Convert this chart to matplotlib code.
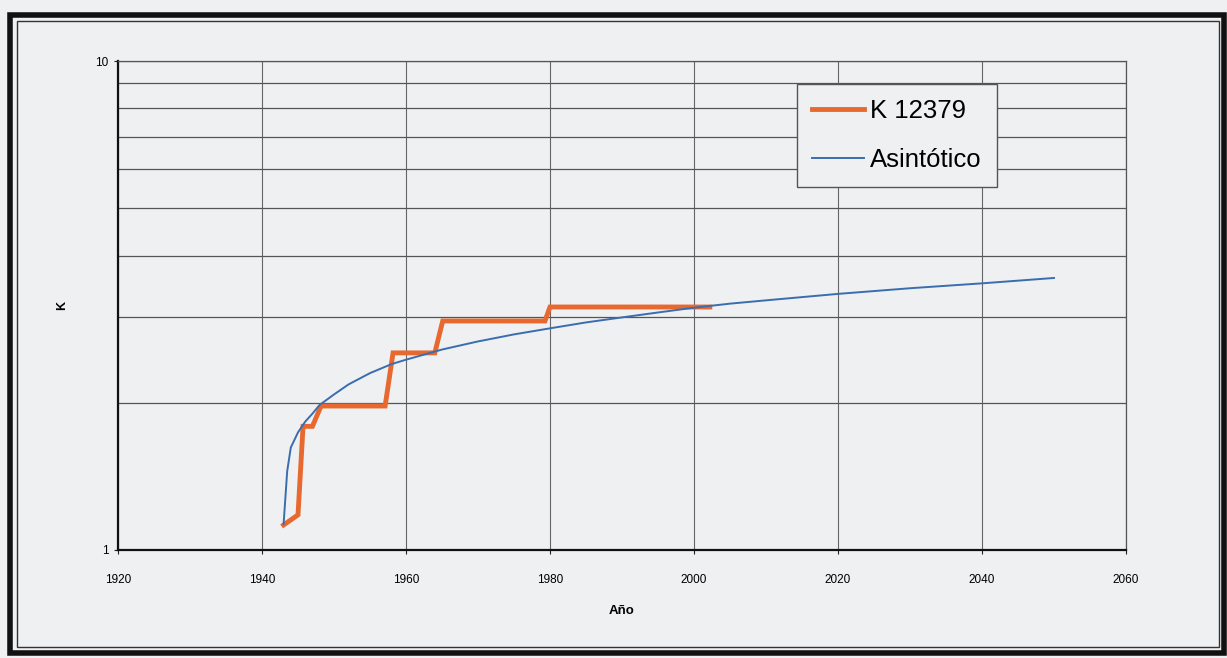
import matplotlib
matplotlib.use("Agg")
import matplotlib.pyplot as plt
from matplotlib.patches import Rectangle
from matplotlib.ticker import FixedLocator, NullFormatter, FixedFormatter

# ---- data ----
k_years = [1943.0, 1945.0, 1945.7, 1947.0, 1948.2, 1957.1, 1958.2, 1964.0,
           1965.1, 1979.3, 1980.0, 2002.2]
k_values = [1.125, 1.18, 1.79, 1.79, 1.97, 1.97, 2.53, 2.53,
            2.94, 2.94, 3.14, 3.14]

asym_years = [1943.0, 1943.5, 1944, 1945, 1946, 1947, 1948, 1950, 1952, 1955,
              1958, 1960, 1965, 1970, 1975, 1980, 1985, 1990, 1995, 2000,
              2005, 2010, 2020, 2030, 2040, 2050]
asym_values = [1.13, 1.45, 1.62, 1.74, 1.83, 1.90, 1.98, 2.08, 2.18, 2.30,
               2.40, 2.45, 2.57, 2.67, 2.76, 2.84, 2.92, 2.99, 3.06, 3.13,
               3.19, 3.24, 3.34, 3.43, 3.51, 3.60]

x_ticks = [1920, 1940, 1960, 1980, 2000, 2020, 2040, 2060]
y_major = [1, 10]
y_minor = [2, 3, 4, 5, 6, 7, 8, 9]
series_names = ["K 12379", "Asintótico"]
x_label = "Año"
y_label = "K"

plt.rcParams['font.family'] = ['Liberation Sans', 'DejaVu Sans']

W, H = 1227, 658
bg = "#eef0f1"
fig = plt.figure(figsize=(W / 100, H / 100), dpi=100, facecolor=bg)

# frame
def px_rect(x0, y0, x1, y1, lw, color="black"):
    r = Rectangle((x0 / W, 1 - y1 / H), (x1 - x0) / W, (y1 - y0) / H,
                  transform=fig.transFigure, fill=False, lw=lw,
                  edgecolor=color, zorder=0)
    fig.patches.append(r)

px_rect(10, 15, 1224, 653, 4.0, "#111111")
px_rect(17, 21, 1219, 647, 1.0, "#333333")

ax = fig.add_axes([118 / W, 1 - 550 / H, (1126 - 118) / W, (550 - 61) / H])
ax.set_facecolor(bg)

ax.plot(k_years, k_values, color="#e8692f", lw=3.5, label=series_names[0],
        solid_joinstyle="miter", zorder=3)
ax.plot(asym_years, asym_values, color="#3a6db0", lw=1.4,
        label=series_names[1], zorder=4)

ax.set_yscale("log")
ax.set_xlim(1920, 2060)
ax.set_ylim(1, 10)
ax.xaxis.set_major_locator(FixedLocator(x_ticks))
ax.yaxis.set_major_locator(FixedLocator(y_major))
ax.yaxis.set_major_formatter(FixedFormatter([str(v) for v in y_major]))
ax.yaxis.set_minor_locator(FixedLocator(y_minor))
ax.yaxis.set_minor_formatter(NullFormatter())

ax.grid(True, which="both", axis="y", color="#555555", lw=0.9)
ax.grid(True, which="major", axis="x", color="#666666", lw=0.8)
ax.set_axisbelow(True)

ax.tick_params(axis="both", which="major", labelsize=8.5, length=3,
               color="#222222", pad=14)
ax.tick_params(axis="y", which="minor", length=0)
ax.tick_params(axis="y", which="major", pad=4)

for s in ["left", "bottom"]:
    ax.spines[s].set_color("#111111")
    ax.spines[s].set_linewidth(1.6)
for s in ["top", "right"]:
    ax.spines[s].set_color("#555555")
    ax.spines[s].set_linewidth(0.9)

ax.set_xlabel(x_label, fontsize=9.5, fontweight="bold", labelpad=14)
fig.text(62 / W, 1 - 305 / H, y_label, rotation=90, fontsize=9,
         fontweight="bold", ha="center", va="center")

leg = ax.legend(loc="upper left", bbox_to_anchor=((797 - 118) / (1126 - 118),
                1 - (84 - 61) / (550 - 61)),
                fontsize=18.5, frameon=True, fancybox=False, handlelength=2.0,
                handletextpad=0.25, borderpad=0.6, labelspacing=0.95,
                borderaxespad=0)
leg.get_frame().set_facecolor(bg)
leg.get_frame().set_edgecolor("#555555")
leg.get_frame().set_linewidth(1.0)
leg.get_frame().set_alpha(1)

fig.savefig("out.png", dpi=100, facecolor=bg)
